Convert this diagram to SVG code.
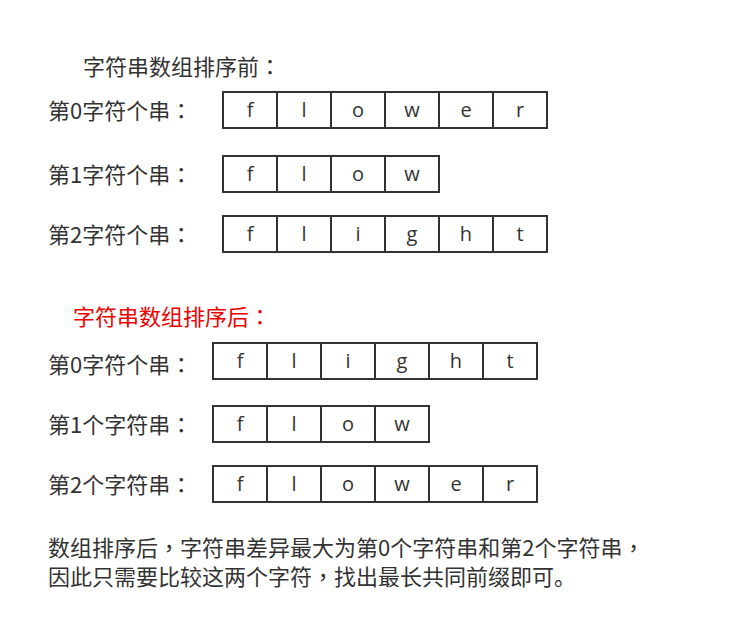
<svg xmlns="http://www.w3.org/2000/svg" width="729" height="633" viewBox="0 0 729 633">
<style>
text{font-family:"Noto Sans CJK SC","Noto Sans",sans-serif;font-size:22px;fill:#333}
.p{font-family:"Noto Sans CJK TC","Noto Sans CJK SC",sans-serif}
.red{fill:#e00}
.c{fill:none;stroke:#333;stroke-width:2}
.l{font-family:"Open Sans","Noto Sans",sans-serif;font-size:20px;text-anchor:middle}
</style>
<rect width="729" height="633" fill="#fff"/>
<g id="title-before"><text x="83" y="75">字符串数组排序前<tspan class="p">：</tspan></text></g>
<g id="before-0">
<text x="48" y="119">第0字符个串<tspan class="p">：</tspan></text>
<rect class="c" x="223" y="92" width="324" height="36"/>
<path class="c" d="M277 92V128M331 92V128M385 92V128M439 92V128M493 92V128"/>
<text class="l" x="250" y="117">f</text><text class="l" x="304" y="117">l</text><text class="l" x="358" y="117">o</text><text class="l" x="412" y="117">w</text><text class="l" x="466" y="117">e</text><text class="l" x="520" y="117">r</text>
</g>
<g id="before-1">
<text x="48" y="183">第1字符个串<tspan class="p">：</tspan></text>
<rect class="c" x="223" y="156" width="216" height="36"/>
<path class="c" d="M277 156V192M331 156V192M385 156V192"/>
<text class="l" x="250" y="181">f</text><text class="l" x="304" y="181">l</text><text class="l" x="358" y="181">o</text><text class="l" x="412" y="181">w</text>
</g>
<g id="before-2">
<text x="48" y="243">第2字符个串<tspan class="p">：</tspan></text>
<rect class="c" x="223" y="216" width="324" height="36"/>
<path class="c" d="M277 216V252M331 216V252M385 216V252M439 216V252M493 216V252"/>
<text class="l" x="250" y="241">f</text><text class="l" x="304" y="241">l</text><text class="l" x="358" y="241">i</text><text class="l" x="412" y="241">g</text><text class="l" x="466" y="241">h</text><text class="l" x="520" y="241">t</text>
</g>
<g id="title-after"><text class="red" x="73" y="325">字符串数组排序后<tspan class="p">：</tspan></text></g>
<g id="after-0">
<text x="48" y="373">第0字符个串<tspan class="p">：</tspan></text>
<rect class="c" x="213" y="343" width="324" height="36"/>
<path class="c" d="M267 343V379M321 343V379M375 343V379M429 343V379M483 343V379"/>
<text class="l" x="240" y="368">f</text><text class="l" x="294" y="368">l</text><text class="l" x="348" y="368">i</text><text class="l" x="402" y="368">g</text><text class="l" x="456" y="368">h</text><text class="l" x="510" y="368">t</text>
</g>
<g id="after-1">
<text x="48" y="433">第1个字符串<tspan class="p">：</tspan></text>
<rect class="c" x="213" y="406" width="216" height="36"/>
<path class="c" d="M267 406V442M321 406V442M375 406V442"/>
<text class="l" x="240" y="431">f</text><text class="l" x="294" y="431">l</text><text class="l" x="348" y="431">o</text><text class="l" x="402" y="431">w</text>
</g>
<g id="after-2">
<text x="48" y="493">第2个字符串<tspan class="p">：</tspan></text>
<rect class="c" x="213" y="466" width="324" height="36"/>
<path class="c" d="M267 466V502M321 466V502M375 466V502M429 466V502M483 466V502"/>
<text class="l" x="240" y="491">f</text><text class="l" x="294" y="491">l</text><text class="l" x="348" y="491">o</text><text class="l" x="402" y="491">w</text><text class="l" x="456" y="491">e</text><text class="l" x="510" y="491">r</text>
</g>
<g id="note">
<text x="48" y="556">数组排序后<tspan class="p">，</tspan>字符串差异最大为第0个字符串和第2个字符串<tspan class="p">，</tspan></text>
<text x="48" y="585">因此只需要比较这两个字符<tspan class="p">，</tspan>找出最长共同前缀即可。</text>
</g>
<g id="connectors"/>
</svg>
